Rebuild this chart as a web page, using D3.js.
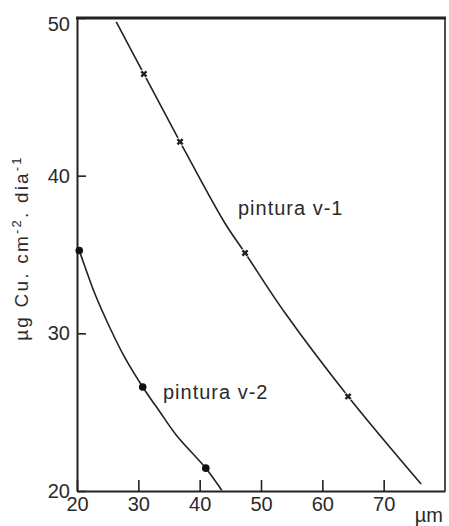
<!DOCTYPE html>
<html>
<head>
<meta charset="utf-8">
<script src="https://cdn.jsdelivr.net/npm/d3@7"></script>
<style>
  html, body { margin: 0; padding: 0; background: #fff; }
  svg { display: block; }
  text { font-family: "Liberation Sans", Arial, Helvetica, sans-serif; fill: #2a2a2a; }
</style>
</head>
<body>
<svg id="chart" width="449" height="526"></svg>
<script>
// ---- data ----
const xTicks = [20, 30, 40, 50, 60, 70];
const yTicks = [20, 30, 40, 50];

// pintura v-1 (cross markers)
const v1CurveX = [26.4, 30.9, 36.8, 44.1, 47.4, 53.9, 64.2, 76.1];
const v1CurveY = [49.75, 46.45, 42.15, 37.0, 35.1, 31.3, 26.0, 20.45];
const v1MarkX = [30.9, 36.8, 47.4, 64.2];
const v1MarkY = [46.45, 42.15, 35.1, 26.0];

// pintura v-2 (dot markers)
const v2CurveX = [20.37, 21.14, 22.93, 25.38, 27.83, 30.71, 33.53, 36.3, 41.0, 43.6];
const v2CurveY = [35.25, 34.40, 32.49, 30.34, 28.44, 26.60, 25.01, 23.49, 21.45, 20.05];
const v2MarkX = [20.37, 30.71, 41.0];
const v2MarkY = [35.25, 26.60, 21.45];

const seriesLabels = ["pintura v-1", "pintura v-2"];
const xUnit = "µm";

// ---- layout ----
const svg = d3.select("#chart");
const mLeft = 77, mRight = 445, mTop = 18, mBottom = 491;

const x = d3.scaleLinear().domain([20, 80]).range([mLeft, mRight]);
const y = d3.scaleLinear().domain([20, 50]).range([mBottom, mTop]);

const ink = "#222";

// top and right frame lines
svg.append("line").attr("x1", mLeft - 1).attr("x2", mRight + 1)
  .attr("y1", mTop).attr("y2", mTop)
  .attr("stroke", ink).attr("stroke-width", 3);
svg.append("line").attr("x1", mRight).attr("x2", mRight)
  .attr("y1", mTop).attr("y2", mBottom)
  .attr("stroke", ink).attr("stroke-width", 1.6);

// axes
const xAxis = d3.axisBottom(x).tickValues(xTicks).tickFormat(d3.format("d"))
  .tickSizeInner(-11).tickSizeOuter(0).tickPadding(6);
const yAxis = d3.axisLeft(y).tickValues(yTicks).tickFormat(d3.format("d"))
  .tickSizeInner(-9).tickSizeOuter(0).tickPadding(7);

const gx = svg.append("g").attr("transform", `translate(0,${mBottom})`).call(xAxis);
const gy = svg.append("g").attr("transform", `translate(${mLeft},0)`).call(yAxis);

[gx, gy].forEach(g => {
  g.select(".domain").attr("stroke", ink).attr("stroke-width", 2);
  g.selectAll(".tick line").attr("stroke", ink).attr("stroke-width", 1.6);
  g.selectAll(".tick text").attr("font-size", 20)
    .attr("font-family", "Liberation Sans, Arial, sans-serif").attr("fill", "#2a2a2a");
});
gy.selectAll(".tick").filter(d => d === 50).select("text").attr("dy", "0.62em");

// x unit
svg.append("text").attr("x", 443).attr("y", 522).attr("text-anchor", "end")
  .attr("font-size", 20).text(xUnit);

// y label
const yl = svg.append("text")
  .attr("transform", "translate(28,248) rotate(-90)")
  .attr("text-anchor", "middle").attr("font-size", 19)
  .attr("letter-spacing", "2.2px");
yl.append("tspan").text("µg Cu. cm");
yl.append("tspan").attr("font-size", 13).attr("dy", -7).text("-2");
yl.append("tspan").attr("dy", 7).text(". dia");
yl.append("tspan").attr("font-size", 13).attr("dy", -7).text("-1");

// curves
const line = d3.line().x(d => x(d[0])).y(d => y(d[1])).curve(d3.curveCatmullRom.alpha(0.5));
const v1 = v1CurveX.map((v, i) => [v, v1CurveY[i]]);
const v2 = v2CurveX.map((v, i) => [v, v2CurveY[i]]);

svg.append("path").datum(v1).attr("d", line)
  .attr("fill", "none").attr("stroke", ink).attr("stroke-width", 1.6);
svg.append("path").datum(v2).attr("d", line)
  .attr("fill", "none").attr("stroke", ink).attr("stroke-width", 1.6);

// v-1 markers: small x crosses with gap
const v1m = v1MarkX.map((v, i) => [v, v1MarkY[i]]);
const mg = svg.append("g").selectAll("g").data(v1m).join("g")
  .attr("transform", d => `translate(${x(d[0])},${y(d[1])})`);
mg.append("circle").attr("r", 4.5).attr("fill", "#fff");
mg.append("path").attr("d", d3.symbol(d3.symbolCross, 30)())
  .attr("transform", "rotate(45)").attr("fill", ink);

// v-2 markers: dots
const v2m = v2MarkX.map((v, i) => [v, v2MarkY[i]]);
svg.append("g").selectAll("circle").data(v2m).join("circle")
  .attr("cx", d => x(d[0])).attr("cy", d => y(d[1])).attr("r", 3.8).attr("fill", "#111");

// series labels
svg.append("text").attr("x", 238).attr("y", 214.5).attr("font-size", 20)
  .attr("letter-spacing", "1px").text(seriesLabels[0]);
svg.append("text").attr("x", 163).attr("y", 399).attr("font-size", 20)
  .attr("letter-spacing", "1px").text(seriesLabels[1]);
</script>
</body>
</html>
